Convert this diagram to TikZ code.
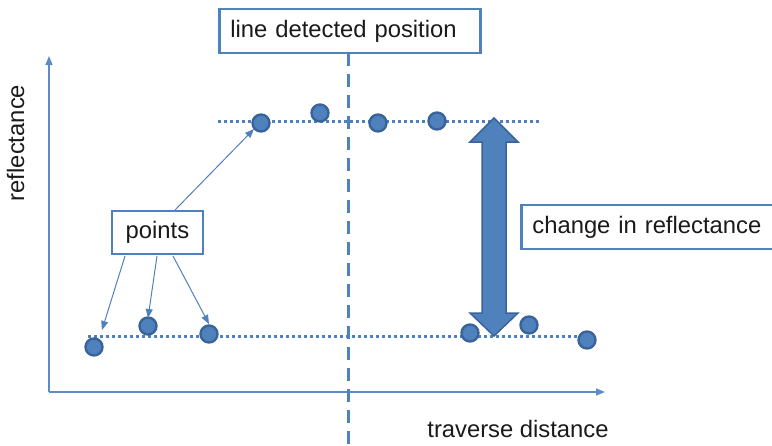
\documentclass[tikz,border=0pt]{standalone}
\usepackage{fontspec}
\setmainfont{Liberation Sans}
\usetikzlibrary{arrows.meta}
\definecolor{obl}{HTML}{4F81BD}
\definecolor{obd}{HTML}{3A639A}
\definecolor{axc}{HTML}{5B8CC8}
\definecolor{txt}{HTML}{1A1A1A}
\begin{document}
\begin{tikzpicture}[x=1pt,y=-1pt,
  lbl/.style={font=\fontsize{23.8}{28}\selectfont, text=txt},
  box/.style={lbl, draw=obl, line width=2.8pt, fill=white, inner sep=0pt},
  pt/.style={circle, fill=obl, draw=obd, line width=2.4pt, minimum size=17pt, inner sep=0pt},
  dotl/.style={obl, line width=3pt, dash pattern=on 3pt off 3pt},
  axis/.style={axc, line width=1.3pt, -{Triangle[length=9pt,width=7pt]}},
  ptr/.style={obl, line width=1pt, -{Triangle[length=9pt,width=7pt]}}]
\useasboundingbox (0,0) rectangle (772,445);
\clip (0,0) rectangle (772,445);
% axes
\coordinate (O) at (49,392);
\coordinate (Ytop) at (49,56);
\coordinate (Xend) at (605,392);
\draw[axis] (O) -- (Ytop);
\draw[axis] (O) -- (Xend);
% dotted level lines
\coordinate (u1) at (218,121);
\coordinate (u2) at (541,121);
\coordinate (l1) at (88,336);
\coordinate (l2) at (590,336);
\draw[dotl] (u1) -- (u2);
\draw[dotl] (l1) -- (l2);
% dashed vertical line
\coordinate (v1) at (348,53);
\coordinate (v2) at (348,445);
\draw[obl, line width=3pt, dash pattern=on 13pt off 8pt] (v1) -- (v2);
% big double arrow
\fill[obl, draw=obd, line width=1.5pt, line join=miter]
  (494,118) -- (518,142) -- (506,142) -- (506,313) -- (518,313) -- (494,336)
  -- (470,313) -- (482,313) -- (482,142) -- (470,142) -- cycle;
% points
\node[pt] (p1) at (261,123) {};
\node[pt] (p2) at (320,113) {};
\node[pt] (p3) at (378,123) {};
\node[pt] (p4) at (437,121) {};
\node[pt] (q1) at (94,347) {};
\node[pt] (q2) at (148,326) {};
\node[pt] (q3) at (209,334) {};
\node[pt] (q4) at (470,333) {};
\node[pt] (q5) at (529,325) {};
\node[pt] (q6) at (587,340) {};
% boxes
\node[box, anchor=west, minimum height=44pt, text width=239pt, align=left, inner xsep=11pt] (title) at (218,31) {line detected position};
\node[box, minimum width=91pt, minimum height=43pt] (pts) at (157.5,232.5) {points};
\node[box, anchor=west, minimum height=44pt, text width=250pt, align=left, inner xsep=11pt] (chg) at (520,227) {change in reflectance};
% pointer arrows
\coordinate (s0) at (175,210);
\coordinate (e0) at (254,129);
\coordinate (s1) at (125,256);
\coordinate (e1) at (102,330);
\coordinate (s2) at (157,256);
\coordinate (e2) at (148,318);
\coordinate (s3) at (173,256);
\coordinate (e3) at (209,324);
\draw[ptr] (s0) -- (e0);
\draw[ptr] (s1) -- (e1);
\draw[ptr] (s2) -- (e2);
\draw[ptr] (s3) -- (e3);
% axis labels
\node[lbl, rotate=90] (ylab) at (15.5,143) {reflectance};
\node[lbl] (xlab) at (518,429) {traverse distance};
\end{tikzpicture}
\end{document}
